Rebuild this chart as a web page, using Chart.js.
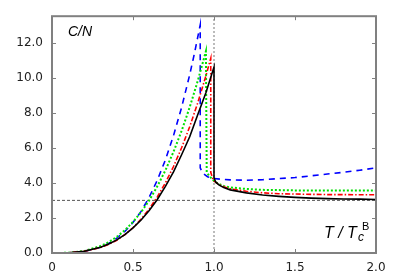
<!DOCTYPE html>
<html>
<head>
<meta charset="utf-8">
<script src="https://cdn.jsdelivr.net/npm/chart.js"></script>
<style>
  html, body { margin: 0; padding: 0; background: #fff; }
  #wrap { width: 400px; height: 280px; }
</style>
</head>
<body>
<div id="wrap"><canvas id="cv" width="400" height="280"></canvas></div>
<script>
// data: T / Tc and C/N for each curve
const tBlack = [0, 0.1, 0.2, 0.3, 0.35, 0.4, 0.45, 0.5, 0.55, 0.6, 0.65, 0.7, 0.75, 0.8, 0.85, 0.9, 0.95, 1.0, 1.0, 1.01, 1.03, 1.06, 1.1, 1.2, 1.3, 1.4, 1.5, 1.6, 1.7, 1.8, 1.9, 2.0];
const cBlack = [0, 0.01, 0.1, 0.33, 0.51, 0.75, 1.05, 1.43, 1.88, 2.42, 3.05, 3.8, 4.62, 5.6, 6.63, 7.9, 9.14, 10.6, 4.3, 4.05, 3.88, 3.74, 3.6, 3.43, 3.31, 3.23, 3.17, 3.13, 3.1, 3.08, 3.07, 3.05];

const tRed = [0, 0.1, 0.2, 0.3, 0.35, 0.4, 0.45, 0.5, 0.55, 0.6, 0.65, 0.7, 0.75, 0.8, 0.85, 0.9, 0.95, 0.98, 0.98, 0.99, 1.0, 1.03, 1.06, 1.1, 1.2, 1.3, 1.4, 1.5, 1.7, 2.0];
const cRed = [0, 0.01, 0.1, 0.31, 0.49, 0.73, 1.05, 1.44, 1.93, 2.51, 3.2, 4.0, 4.93, 6.0, 7.2, 8.57, 10.1, 11.1, 4.6, 4.3, 4.1, 3.9, 3.78, 3.66, 3.52, 3.43, 3.38, 3.36, 3.33, 3.32];

const tGreen = [0, 0.1, 0.2, 0.3, 0.35, 0.4, 0.45, 0.5, 0.55, 0.6, 0.65, 0.7, 0.75, 0.8, 0.85, 0.9, 0.95, 0.955, 0.97, 0.99, 1.0, 1.03, 1.06, 1.1, 1.2, 1.3, 1.5, 1.7, 2.0];
const cGreen = [0, 0.01, 0.11, 0.4, 0.62, 0.92, 1.3, 1.77, 2.33, 3.0, 3.8, 4.71, 5.77, 6.96, 8.31, 9.82, 11.5, 4.6, 4.4, 4.2, 4.1, 3.93, 3.82, 3.74, 3.65, 3.6, 3.57, 3.56, 3.56];

const tBlue = [0, 0.1, 0.2, 0.3, 0.35, 0.4, 0.45, 0.5, 0.55, 0.6, 0.65, 0.7, 0.75, 0.8, 0.85, 0.88, 0.915, 0.915, 0.93, 0.96, 1.0, 1.05, 1.1, 1.2, 1.3, 1.4, 1.5, 1.6, 1.7, 1.8, 1.9, 2.0];
const cBlue = [0, 0.01, 0.1, 0.33, 0.55, 0.85, 1.23, 1.74, 2.37, 3.18, 4.15, 5.31, 6.69, 8.3, 10.16, 11.41, 13.0, 4.85, 4.55, 4.35, 4.25, 4.2, 4.17, 4.15, 4.18, 4.24, 4.3, 4.4, 4.5, 4.6, 4.72, 4.85];

// reference lines
const refC = 3;
const refT = 1;

// axes
const xTicks = [0, 0.5, 1, 1.5, 2];
const yTicks = [0, 2, 4, 6, 8, 10, 12];

function pts(xs, ys) {
  return xs.map((x, i) => ({ x: x, y: ys[i] }));
}

// 🔹 frame, inward ticks and labels (gnuplot look)
const framePlugin = {
  id: 'frame',
  afterDatasetsDraw(chart) {
    const ctx = chart.ctx;
    const a = chart.chartArea;
    const sx = chart.scales.x, sy = chart.scales.y;
    ctx.save();
    ctx.strokeStyle = '#808080';
    ctx.lineWidth = 1;
    const tl = 4;
    ctx.beginPath();
    xTicks.forEach(v => {
      const px = Math.round(sx.getPixelForValue(v)) + 0.5;
      ctx.moveTo(px, a.bottom); ctx.lineTo(px, a.bottom - tl);
      ctx.moveTo(px, a.top); ctx.lineTo(px, a.top + tl);
    });
    yTicks.forEach(v => {
      const py = Math.round(sy.getPixelForValue(v)) + 0.5;
      ctx.moveTo(a.left, py); ctx.lineTo(a.left + tl, py);
      ctx.moveTo(a.right, py); ctx.lineTo(a.right - tl, py);
    });
    ctx.stroke();
    ctx.lineWidth = 2;
    ctx.strokeRect(a.left, a.top, a.right - a.left, a.bottom - a.top);

    ctx.fillStyle = '#000';
    ctx.textBaseline = 'alphabetic';
    ctx.font = 'italic 14px "Liberation Sans"';
    ctx.fillText('C/N', 68, 36);

    ctx.font = 'italic 16px "Liberation Sans"';
    ctx.fillText('T / T', 324, 238);
    ctx.font = 'italic 12px "Liberation Sans"';
    ctx.fillText('c', 358, 241);
    ctx.font = '11px "Liberation Sans"';
    ctx.fillText('B', 362, 230);
    ctx.restore();
  }
};

new Chart(document.getElementById('cv'), {
  type: 'scatter',
  data: {
    datasets: [
      { data: pts(tBlack, cBlack), borderColor: '#000', borderWidth: 1.6, order: 0 },
      { data: pts(tRed, cRed), borderColor: '#ff0000', borderWidth: 1.6, borderDash: [5, 2, 1.5, 2], order: 1 },
      { data: pts(tGreen, cGreen), borderColor: '#00e000', borderWidth: 2, borderDash: [2, 2], order: 2 },
      { data: pts(tBlue, cBlue), borderColor: '#0000ff', borderWidth: 1.6, borderDash: [6, 5], order: 3 },
      { data: pts([0, 2], [refC, refC]), borderColor: '#555', borderWidth: 1, borderDash: [3, 2], order: 10 },
      { data: pts([refT, refT], [0, 13.5]), borderColor: '#bbb', borderWidth: 2, borderDash: [2, 2], order: 11 }
    ]
  },
  options: {
    responsive: false,
    animation: false,
    showLine: true,
    elements: { point: { radius: 0 }, line: { tension: 0, fill: false } },
    layout: { padding: { top: 16, right: 24, left: 0, bottom: 0 } },
    plugins: { legend: { display: false }, tooltip: { enabled: false } },
    scales: {
      x: {
        type: 'linear', min: 0, max: 2,
        grid: { display: false, drawTicks: false },
        border: { display: false },
        afterBuildTicks: s => { s.ticks = xTicks.map(v => ({ value: v })); },
        afterFit: s => { s.height = 27; },
        ticks: { padding: 8, color: '#222', font: { family: 'DejaVu Sans', size: 12 }, maxRotation: 0 }
      },
      y: {
        type: 'linear', min: 0, max: 13.5,
        grid: { display: false, drawTicks: false },
        border: { display: false },
        afterBuildTicks: s => { s.ticks = yTicks.map(v => ({ value: v })); },
        afterFit: s => { s.width = 52; },
        ticks: { padding: 9, color: '#222', font: { family: 'DejaVu Sans', size: 12 }, callback: v => v.toFixed(1) }
      }
    }
  },
  plugins: [framePlugin]
});
</script>
</body>
</html>
